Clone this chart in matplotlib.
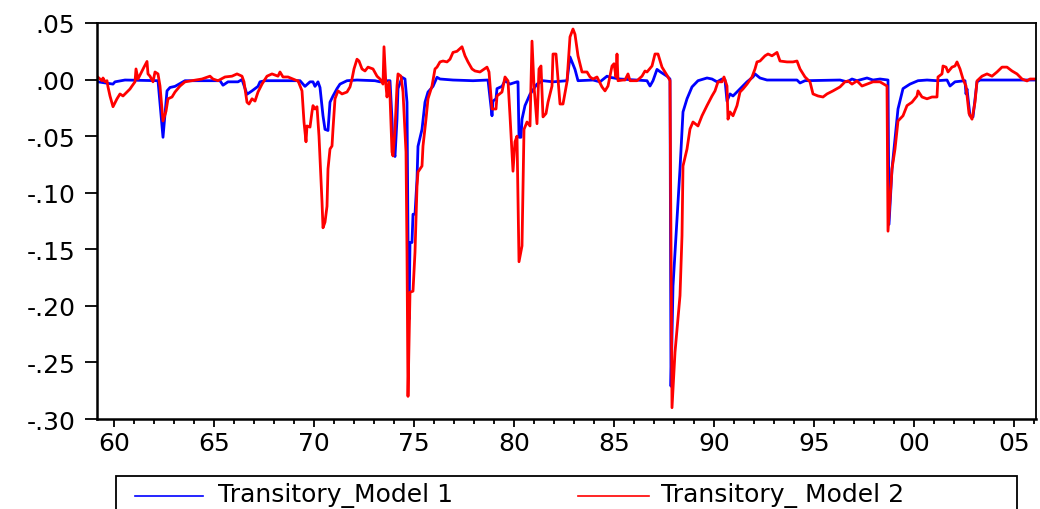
import numpy as np
import matplotlib
matplotlib.use("Agg")
import matplotlib.pyplot as plt
from matplotlib.lines import Line2D
from matplotlib.patches import Rectangle
from matplotlib.ticker import MultipleLocator

# transitory component, model 1 (year, value)
model1_dates = [
    1959.2, 1959.95, 1960.05, 1960.55, 1962.2, 1962.45, 1962.65, 1962.8, 1963.05, 1963.55,
    1965.3, 1965.45, 1965.7, 1966.2, 1966.4, 1966.65, 1966.9, 1967.2, 1967.3, 1967.55,
    1969.3, 1969.55, 1969.8, 1969.95, 1970.05, 1970.2, 1970.3, 1970.45, 1970.55, 1970.7,
    1970.8, 1970.95, 1971.15, 1971.3, 1971.65, 1972.15, 1973.05, 1973.3, 1973.7, 1973.8,
    1973.9, 1973.95, 1974.05, 1974.15, 1974.2, 1974.4, 1974.55, 1974.65, 1974.7, 1974.75,
    1974.8, 1974.9, 1974.95, 1975.05, 1975.15, 1975.2, 1975.4, 1975.55, 1975.7, 1975.95,
    1976.15, 1976.3, 1976.95, 1977.95, 1978.7, 1978.9, 1978.95, 1979.1, 1979.15, 1979.4,
    1979.55, 1979.8, 1980.15, 1980.2, 1980.25, 1980.35, 1980.4, 1980.55, 1980.8, 1981.15,
    1981.45, 1981.95, 1982.65, 1982.8, 1983.05, 1983.2, 1983.95, 1984.3, 1984.65, 1984.8,
    1985.3, 1986.65, 1986.8, 1986.95, 1987.15, 1987.3, 1987.65, 1987.8, 1987.85, 1987.95,
    1988.15, 1988.3, 1988.45, 1988.65, 1988.9, 1989.2, 1989.65, 1989.9, 1990.15, 1990.4,
    1990.55, 1990.65, 1990.8, 1990.95, 1991.3, 1991.65, 1991.95, 1992.05, 1992.3, 1992.65,
    1994.15, 1994.3, 1994.55, 1996.3, 1996.65, 1996.9, 1997.15, 1997.65, 1997.95, 1998.3,
    1998.7, 1998.75, 1998.9, 1999.2, 1999.45, 1999.8, 2000.2, 2000.65, 2001.15, 2001.65,
    2001.8, 2002.05, 2002.55, 2002.6, 2002.65, 2002.8, 2002.95, 2003.15, 2003.3, 2006.05]
model1_values = [
    -0.002, -0.004, -0.002, -0.0004, -0.001, -0.051, -0.010, -0.007, -0.006, -0.001,
    -0.001, -0.005, -0.002, -0.002, 0.000, -0.013, -0.010, -0.006, -0.002, -0.001,
    -0.001, -0.006, -0.002, -0.002, -0.006, -0.002, -0.007, -0.032, -0.044, -0.045,
    -0.020, -0.0145, -0.008, -0.004, -0.001, -0.0004, -0.001, -0.002, -0.001, -0.001,
    -0.035, -0.061, -0.068, -0.035, -0.008, 0.002, 0.0005, -0.020, -0.140, -0.212,
    -0.144, -0.144, -0.119, -0.119, -0.088, -0.059, -0.044, -0.020, -0.011, -0.006,
    0.002, 0.0005, -0.0004, -0.001, -0.0004, -0.032, -0.019, -0.017, -0.008, -0.006,
    -0.001, -0.004, -0.002, -0.002, -0.051, -0.051, -0.035, -0.023, -0.013, -0.004,
    -0.001, -0.002, -0.001, 0.020, 0.009, -0.001, -0.0004, -0.002, 0.003, 0.002,
    0.0005, -0.001, -0.0057, -0.001, 0.009, 0.007, 0.003, 0.0005, -0.271, -0.1825,
    -0.123, -0.079, -0.0286, -0.017, -0.0065, -0.001, 0.0014, 0.0005, -0.002, 0.0005,
    -0.0004, -0.019, -0.0127, -0.0145, -0.0083, -0.002, 0.0023, 0.005, 0.0014, -0.0004,
    -0.0004, -0.003, -0.001, -0.0004, -0.002, 0.0005, -0.001, 0.0014, -0.0004, 0.0005,
    -0.0004, -0.128, -0.079, -0.026, -0.008, -0.004, -0.001, -0.0004, -0.001, -0.0004,
    -0.0057, -0.002, -0.001, -0.0127, -0.0083, -0.032, -0.033, -0.002, -0.0004, -0.0004]

# transitory component, model 2 (year, value)
model2_dates = [
    1959.2, 1959.4, 1959.45, 1959.55, 1959.65, 1959.7, 1959.8, 1959.95, 1960.15, 1960.3,
    1960.45, 1960.65, 1960.8, 1960.9, 1961.05, 1961.1, 1961.2, 1961.4, 1961.5, 1961.65,
    1961.7, 1961.8, 1961.95, 1962.05, 1962.2, 1962.3, 1962.45, 1962.6, 1962.7, 1962.9,
    1963.05, 1963.3, 1963.55, 1963.9, 1964.4, 1964.8, 1964.95, 1965.2, 1965.55, 1965.9,
    1966.15, 1966.4, 1966.5, 1966.65, 1966.75, 1966.9, 1967.05, 1967.2, 1967.4, 1967.65,
    1967.9, 1968.2, 1968.3, 1968.45, 1968.7, 1968.95, 1969.15, 1969.2, 1969.4, 1969.5,
    1969.6, 1969.65, 1969.8, 1969.9, 1969.95, 1970.05, 1970.15, 1970.25, 1970.4, 1970.45,
    1970.55, 1970.65, 1970.7, 1970.8, 1970.9, 1970.95, 1971.05, 1971.2, 1971.4, 1971.65,
    1971.8, 1971.9, 1972.0, 1972.15, 1972.25, 1972.4, 1972.55, 1972.7, 1972.95, 1973.15,
    1973.3, 1973.45, 1973.5, 1973.6, 1973.65, 1973.75, 1973.8, 1973.9, 1973.95, 1974.05,
    1974.15, 1974.2, 1974.35, 1974.45, 1974.6, 1974.65, 1974.7, 1974.8, 1974.95, 1975.05,
    1975.15, 1975.2, 1975.4, 1975.45, 1975.6, 1975.7, 1975.9, 1976.05, 1976.15, 1976.3,
    1976.45, 1976.65, 1976.8, 1976.95, 1977.15, 1977.4, 1977.55, 1977.7, 1977.9, 1978.05,
    1978.3, 1978.65, 1978.75, 1978.9, 1978.95, 1979.1, 1979.15, 1979.4, 1979.55, 1979.7,
    1979.8, 1979.95, 1980.05, 1980.15, 1980.25, 1980.4, 1980.5, 1980.65, 1980.8, 1980.9,
    1981.0, 1981.15, 1981.25, 1981.35, 1981.45, 1981.6, 1981.7, 1981.9, 1981.95, 1982.1,
    1982.3, 1982.45, 1982.65, 1982.8, 1982.95, 1983.05, 1983.2, 1983.4, 1983.65, 1983.8,
    1983.95, 1984.15, 1984.4, 1984.55, 1984.7, 1984.9, 1985.0, 1985.1, 1985.15, 1985.2,
    1985.45, 1985.55, 1985.7, 1985.8, 1986.15, 1986.4, 1986.55, 1986.65, 1986.9, 1987.05,
    1987.2, 1987.4, 1987.55, 1987.7, 1987.8, 1987.9, 1988.05, 1988.3, 1988.4, 1988.45,
    1988.65, 1988.8, 1988.95, 1989.2, 1989.4, 1989.65, 1989.9, 1990.05, 1990.2, 1990.4,
    1990.5, 1990.65, 1990.7, 1990.8, 1990.95, 1991.15, 1991.3, 1991.45, 1991.65, 1991.9,
    1992.05, 1992.15, 1992.3, 1992.55, 1992.7, 1992.9, 1993.15, 1993.3, 1993.65, 1993.95,
    1994.15, 1994.3, 1994.55, 1994.8, 1994.95, 1995.2, 1995.45, 1995.65, 1995.95, 1996.3,
    1996.55, 1996.7, 1996.9, 1997.15, 1997.4, 1997.65, 1997.95, 1998.3, 1998.65, 1998.7,
    1998.9, 1999.05, 1999.2, 1999.45, 1999.65, 1999.9, 2000.15, 2000.2, 2000.4, 2000.65,
    2000.9, 2001.15, 2001.2, 2001.4, 2001.45, 2001.6, 2001.7, 2001.9, 2002.05, 2002.15,
    2002.3, 2002.45, 2002.6, 2002.75, 2002.9, 2003.05, 2003.15, 2003.4, 2003.65, 2003.9,
    2004.15, 2004.4, 2004.65, 2004.9, 2005.15, 2005.4, 2005.65, 2005.8, 2006.05]
model2_values = [
    0.002, -0.001, 0.0014, -0.002, -0.001, -0.0065, -0.0145, -0.024, -0.017, -0.0127,
    -0.0145, -0.011, -0.0083, -0.0057, -0.002, 0.0094, 0.0005, 0.0076, 0.011, 0.016,
    0.005, 0.003, -0.002, 0.0067, 0.005, -0.0057, -0.0366, -0.028, -0.017, -0.0154,
    -0.011, -0.0057, -0.002, -0.001, 0.0005, 0.003, 0.0005, -0.001, 0.0023, 0.003,
    0.005, 0.003, -0.002, -0.020, -0.0216, -0.017, -0.019, -0.011, -0.004, 0.003,
    0.005, 0.003, 0.0067, 0.0023, 0.0023, 0.0005, -0.001, -0.001, -0.010, -0.0375,
    -0.055, -0.041, -0.042, -0.0286, -0.023, -0.026, -0.024, -0.050, -0.108, -0.131,
    -0.126, -0.112, -0.079, -0.0614, -0.0587, -0.0437, -0.017, -0.010, -0.0127, -0.011,
    -0.0065, 0.0005, 0.0094, 0.018, 0.0164, 0.0094, 0.0076, 0.011, 0.0094, 0.003,
    0.0005, -0.004, 0.029, -0.0057, -0.0154, -0.002, -0.0145, -0.064, -0.0675, -0.0437,
    -0.0057, 0.005, 0.003, -0.011, -0.064, -0.1525, -0.280, -0.188, -0.187, -0.1525,
    -0.0945, -0.0817, -0.0764, -0.0587, -0.035, -0.017, -0.0057, 0.0094, 0.011, 0.0156,
    0.0164, 0.0156, 0.018, 0.024, 0.025, 0.029, 0.021, 0.0156, 0.0094, 0.0076,
    0.0067, 0.011, 0.0067, -0.026, -0.026, -0.026, -0.0145, -0.011, 0.0023, -0.0012,
    -0.032, -0.081, -0.055, -0.050, -0.161, -0.147, -0.044, -0.0375, -0.041, 0.034,
    -0.0057, -0.039, 0.0094, 0.012, -0.033, -0.030, -0.020, -0.0057, 0.0226, 0.0226,
    -0.0216, -0.0216, -0.002, 0.0377, 0.0447, 0.040, 0.021, 0.0067, 0.0067, 0.0023,
    0.0005, 0.0023, -0.0065, -0.010, -0.0057, 0.012, 0.014, 0.0023, 0.0226, -0.001,
    -0.0004, -0.0004, 0.005, -0.001, -0.001, 0.003, 0.0076, 0.0067, 0.012, 0.0226,
    0.0226, 0.011, 0.0067, 0.0023, -0.001, -0.290, -0.241, -0.191, -0.138, -0.0764,
    -0.0614, -0.0437, -0.0375, -0.041, -0.032, -0.023, -0.0145, -0.010, -0.002, -0.002,
    0.0023, -0.0057, -0.035, -0.0286, -0.032, -0.023, -0.011, -0.0083, -0.004, 0.0023,
    0.0094, 0.0156, 0.0164, 0.021, 0.0226, 0.021, 0.024, 0.0164, 0.0156, 0.0156,
    0.0164, 0.0094, 0.0023, -0.002, -0.0127, -0.0145, -0.0154, -0.0127, -0.010, -0.0065,
    -0.002, -0.0012, -0.004, -0.0012, -0.0057, -0.004, -0.002, -0.002, -0.0057, -0.134,
    -0.079, -0.0614, -0.0366, -0.032, -0.023, -0.020, -0.0145, -0.010, -0.0154, -0.017,
    -0.0154, -0.0154, 0.0023, 0.005, 0.012, 0.011, 0.0067, 0.011, 0.012, 0.0156,
    0.0094, 0.0005, -0.0057, -0.030, -0.035, -0.020, -0.0012, 0.003, 0.005, 0.003,
    0.0067, 0.011, 0.011, 0.0076, 0.005, 0.0005, -0.0012, 0.0005, 0.0005]

y_ticks = [0.05, 0.00, -0.05, -0.10, -0.15, -0.20, -0.25, -0.30]
y_labels = [".05", ".00", "-.05", "-.10", "-.15", "-.20", "-.25", "-.30"]
x_ticks = [1960, 1965, 1970, 1975, 1980, 1985, 1990, 1995, 2000, 2005]
x_labels = ["60", "65", "70", "75", "80", "85", "90", "95", "00", "05"]
legend_labels = ["Transitory_Model 1", "Transitory_ Model 2"]

plt.rcParams['font.family'] = ['DejaVu Sans']
fs = 18

fig = plt.figure(figsize=(10.4, 5.1), dpi=100)
ax = fig.add_axes([97 / 1040, 1 - 420 / 510, 939 / 1040, 396 / 510])

ax.plot(model1_dates, model1_values, color='#0000ff', lw=2.0)
ax.plot(model2_dates, model2_values, color='#ff0000', lw=2.0)

ax.set_xlim(1959.15, 2006.1)
ax.set_ylim(-0.30, 0.05)

ax.set_yticks(y_ticks)
ax.set_yticklabels(y_labels, fontsize=fs)
ax.set_xticks(x_ticks)
ax.set_xticklabels(x_labels, fontsize=fs)
ax.xaxis.set_minor_locator(MultipleLocator(1))

ax.tick_params(axis='y', direction='out', length=8.6, width=1.3, pad=7)
ax.tick_params(axis='x', which='major', direction='out', length=6, width=1.3, pad=3)
ax.tick_params(axis='x', which='minor', direction='out', length=3.6, width=1.3)

for side in ['left', 'bottom']:
    ax.spines[side].set_linewidth(1.8)
for side in ['top', 'right']:
    ax.spines[side].set_linewidth(1.3)

# legend drawn as a box below the plot, partly cut by the image edge
fig.add_artist(Rectangle((116 / 1040, -0.05), 901 / 1040, 0.05 + 1 - 477 / 510,
                         transform=fig.transFigure, fill=False,
                         edgecolor='black', lw=1.3, clip_on=False))
line_y = 1 - 497 / 510
text_y = 1 - 502 / 510
fig.add_artist(Line2D([135 / 1040, 203 / 1040], [line_y, line_y],
                      transform=fig.transFigure, color='#0000ff', lw=1.2))
fig.text(218 / 1040, text_y, legend_labels[0], fontsize=fs, va='baseline')
fig.add_artist(Line2D([578 / 1040, 649 / 1040], [line_y, line_y],
                      transform=fig.transFigure, color='#ff0000', lw=1.2))
fig.text(661 / 1040, text_y, legend_labels[1], fontsize=fs, va='baseline')

plt.savefig('out.png', dpi=100)
